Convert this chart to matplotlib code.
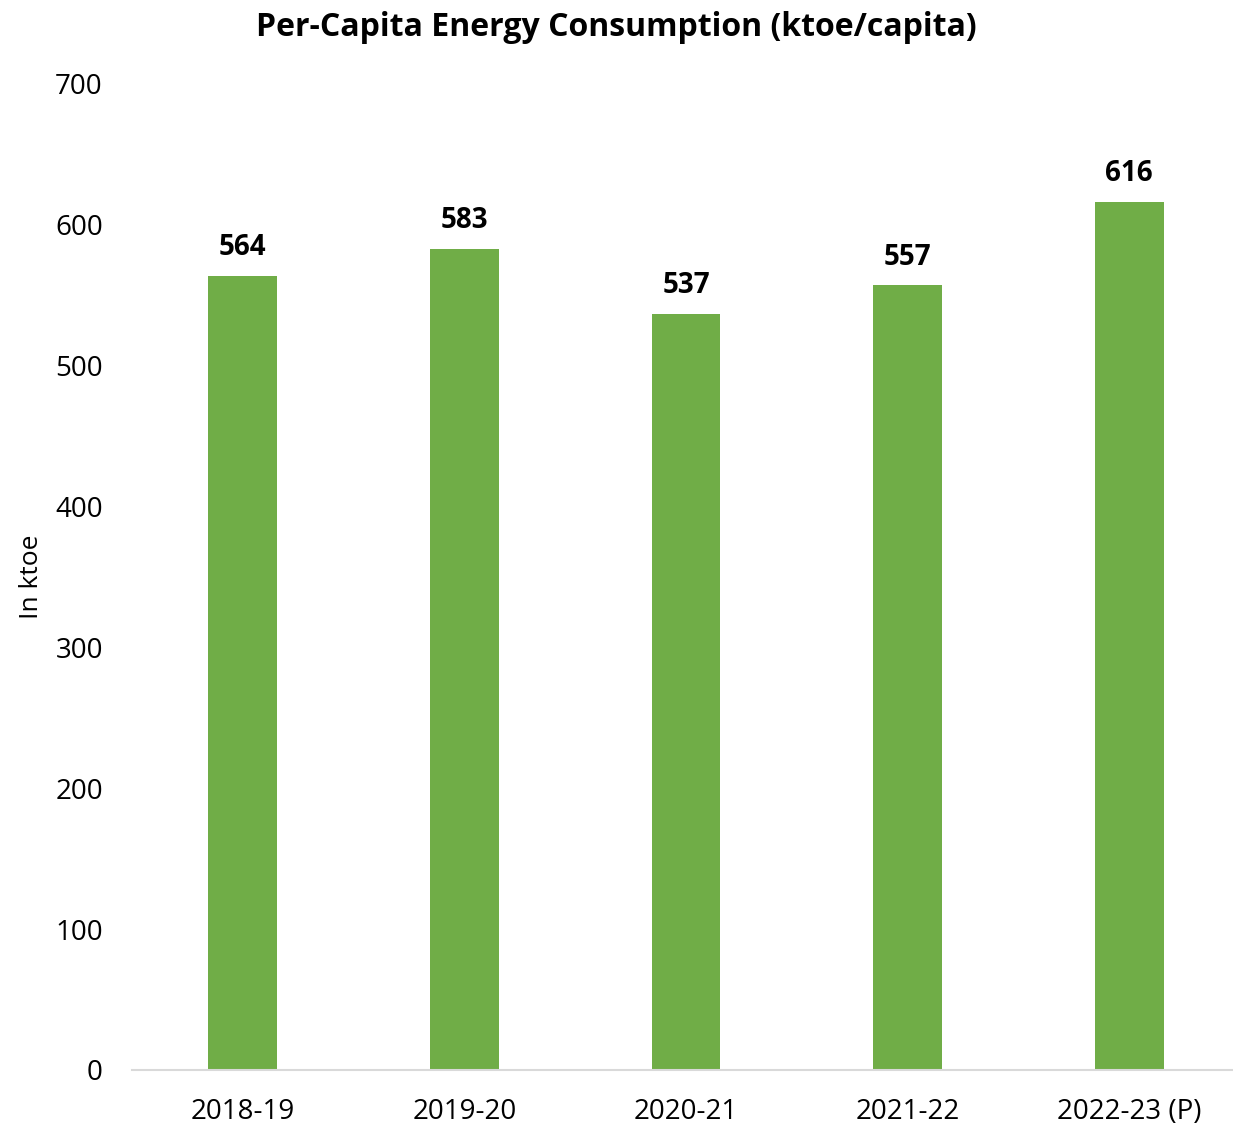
import matplotlib
matplotlib.use("Agg")
import matplotlib.pyplot as plt

categories = ["2018-19", "2019-20", "2020-21", "2021-22", "2022-23 (P)"]
values = [564, 583, 537, 557, 616]
yticks = [0, 100, 200, 300, 400, 500, 600, 700]

plt.rcParams['font.family'] = ['Open Sans', 'DejaVu Sans']

W, H = 1233, 1127
fig = plt.figure(figsize=(W/100, H/100), dpi=100)
left, right, bottom, top = 132, 1240, 1070, 84
ax = fig.add_axes([left/W, 1-bottom/H, (right-left)/W, (bottom-top)/H])

x = range(len(categories))
ax.bar(x, values, width=0.31, color="#70AD47", zorder=2)
for xi, v in zip(x, values):
    ax.annotate(f"{v}", (xi, v), xytext=(0, 10), textcoords="offset points",
                ha="center", va="bottom", fontsize=20, fontweight="bold", color="black")

ax.set_xlim(-0.5, len(categories)-0.5)
ax.set_ylim(0, 700)
ax.set_yticks(yticks)
ax.set_yticklabels([str(t) for t in yticks], fontsize=20)
ax.set_xticks(list(x))
ax.set_xticklabels(categories, fontsize=20)
ax.tick_params(axis='x', length=0, pad=20)
ax.tick_params(axis='y', length=0, pad=21)
for s in ["top", "right", "left"]:
    ax.spines[s].set_visible(False)
ax.spines["bottom"].set_color("#D9D9D9")
ax.spines["bottom"].set_linewidth(1.5)
ax.set_ylabel("In ktoe", fontsize=19, labelpad=8)
fig.text(0.5, 1-28/H, "Per-Capita Energy Consumption (ktoe/capita)", ha="center", va="center",
         fontsize=23, fontweight="bold")
fig.savefig("out.png", dpi=100)
